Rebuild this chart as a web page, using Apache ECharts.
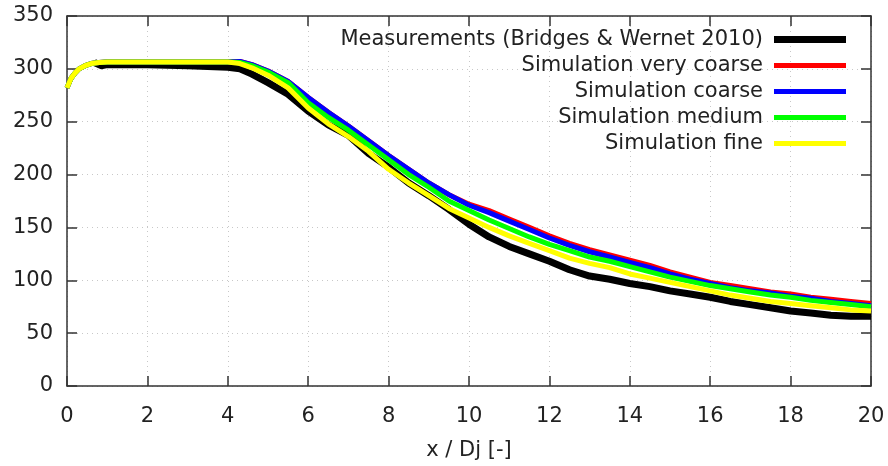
<!DOCTYPE html>
<html>
<head>
<meta charset="utf-8">
<script src="https://cdn.jsdelivr.net/npm/echarts@6/dist/echarts.min.js"></script>
<style>
	html,body{margin:0;padding:0;background:#fff;}
	#chart{width:888px;height:466px;}
</style>
</head>
<body>
<div id="chart"></div>
<script>
// x positions (x / Dj)
var measX = [0.68,0.85,1,2,3,4,4.3,4.6,5,5.5,6,6.5,7,7.5,8,8.5,9,9.5,10,10.5,11,11.5,12,12.5,13,13.5,14,14.5,15,15.5,16,16.5,17,17.5,18,18.5,19,19.5,20];
var simX = [0,0.1,0.2,0.3,0.45,0.6,0.8,1,2,3,4,4.3,4.6,5,5.5,6,6.5,7,7.5,8,8.5,9,9.5,10,10.5,11,11.5,12,12.5,13,13.5,14,14.5,15,15.5,16,16.5,17,17.5,18,18.5,19,19.5,20];

var measured   = [306,303,304,304,303,301.5,300,295,287,276,260,247,237,220,207,192,180,167,153,141,132,125,118,110,104,101,97,94,90,87,84,80,77,74,71,69,67,66,66];
var veryCoarse = [282,291,296,300,303,305,306,306.5,306.5,306.5,306.5,307,304,298,288,273,259,246,232,218,205,192,181,172,166,158,150,142,135,129,124,119,114,108,103,98,95,92,89,87,84,82,80,78];
var coarse     = [282,291,296,300,303,305,306,306.5,306.5,306.5,306.5,307,304,298,288,273,259,246,232,218,205,192,181,171,164,156,148,140,133,127,122,117,112,106,101,97,93,90,88,85,83,80,78,76];
var medium     = [282,291,296,300,303,305,306,306.5,306.5,306.5,306.5,306,303,297,287,268,254,242,228,214,200,188,175,166,157,149,141,134,128,122,118,113,108,103,99,95,92,89,86,84,81,79,77,75];
var fine       = [282,291,296,300,303,305,306,306.5,306.5,306.5,306.5,305,301,294,282,263,248,236,222,205,192,180,168,159,150,142,135,128,121,116,112,106,102,98,94,90,86,83,80,78,76,74,72,71];

var names = ['Measurements (Bridges & Wernet 2010)','Simulation very coarse','Simulation coarse','Simulation medium','Simulation fine'];
var colors = ['#000000','#ff0000','#0000ff','#00ff00','#ffff00'];
var widths = [7,5,5,5,5];
var yTicks = [0,50,100,150,200,250,300,350];
var xTicks = [0,2,4,6,8,10,12,14,16,18,20];

var FONT = 'DejaVu Sans';
var FS = 21;
var AXIS = '#333';

function pairs( xs, ys ){
	return xs.map( function( x, i ){ return [x, ys[i]]; } );
}

var seriesData = [
	pairs( measX, measured ),
	pairs( simX, veryCoarse ),
	pairs( simX, coarse ),
	pairs( simX, medium ),
	pairs( simX, fine )
];

var myChart = echarts.init( document.getElementById('chart'), null, {renderer:'canvas'} );

var baseX = {
	type:'value', min:xTicks[0], max:xTicks[xTicks.length-1], interval:2,
	axisLine:{show:true, onZero:false, lineStyle:{color:AXIS, width:1.5}},
	axisTick:{show:true, inside:true, length:10, lineStyle:{color:AXIS, width:1.5}}
};
var baseY = {
	type:'value', min:yTicks[0], max:yTicks[yTicks.length-1], interval:50,
	axisLine:{show:true, onZero:false, lineStyle:{color:AXIS, width:1.5}},
	axisTick:{show:true, inside:true, length:10, lineStyle:{color:AXIS, width:1.5}}
};

var legendTops = [29,55,81,107,133];

var option = {
	animation:false,
	backgroundColor:'#fff',
	color:colors,
	textStyle:{fontFamily:FONT},
	grid:{left:67, right:17, top:16, bottom:80, containLabel:false, outerBoundsMode:'none'},
	legend: names.map( function( n, i ){
		return {
			data:[n], right:42, top:legendTops[i], orient:'vertical', align:'right',
			padding:0, icon:'rect', itemWidth:72, itemHeight:widths[i],
			selectedMode:false,
			textStyle:{fontFamily:FONT, fontSize:FS, color:'#222', padding:[0,6,0,0]}
		};
	} ),
	xAxis:[
		Object.assign( {}, baseX, {
			position:'bottom',
			name:'x / Dj [-]', nameLocation:'middle', nameGap:54,
			nameTextStyle:{fontFamily:FONT, fontSize:FS, color:'#222'},
			axisLabel:{fontFamily:FONT, fontSize:FS, color:'#222', margin:20},
			splitLine:{show:true, lineStyle:{color:'#c8c8c8', type:[1,4], width:1}}
		} ),
		Object.assign( {}, baseX, {
			position:'top', axisLabel:{show:false}, splitLine:{show:false}
		} )
	],
	yAxis:[
		Object.assign( {}, baseY, {
			position:'left',
			axisLabel:{fontFamily:FONT, fontSize:FS, color:'#222', margin:14},
			splitLine:{show:true, lineStyle:{color:'#c8c8c8', type:[1,4], width:1}}
		} ),
		Object.assign( {}, baseY, {
			position:'right', axisLabel:{show:false}, splitLine:{show:false}
		} )
	],
	series: names.map( function( n, i ){
		return {
			name:n, type:'line', data:seriesData[i],
			showSymbol:false, symbol:'none', smooth:false,
			lineStyle:{color:colors[i], width:widths[i], cap:'butt', join:'round'},
			z:2+i
		};
	} )
};

myChart.setOption( option );
</script>
</body>
</html>
